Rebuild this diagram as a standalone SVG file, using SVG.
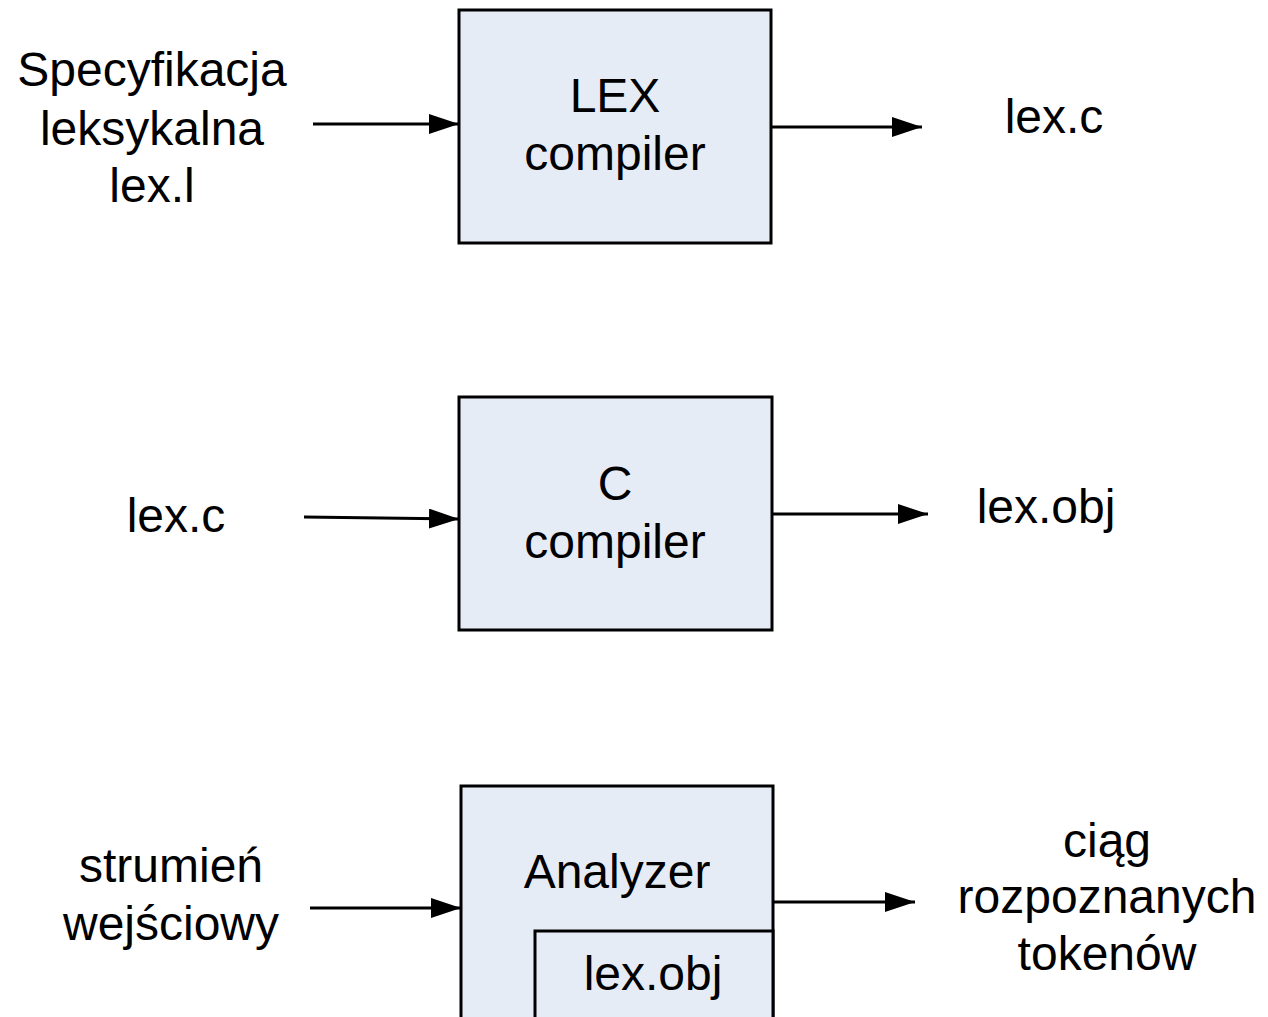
<svg xmlns="http://www.w3.org/2000/svg" width="1268" height="1017" viewBox="0 0 1268 1017">
<style>
.box{fill:#e6ecf6;stroke:#000;stroke-width:3}
.t{font-family:"Liberation Sans",Arial,sans-serif;font-size:48px;fill:#000;text-anchor:middle}
.c{stroke:#000;stroke-width:3;fill:none;marker-end:url(#ah)}
</style>
<defs>
<marker id="ah" markerUnits="userSpaceOnUse" markerWidth="32" markerHeight="22" refX="30" refY="10" orient="auto">
<path d="M0,0 L30,10 L0,20 Z" fill="#000"/>
</marker>
</defs>
<g id="n-lex">
<rect class="box" x="459" y="10" width="312" height="233"/>
<text class="t" x="615" y="112">LEX</text>
<text class="t" x="615" y="170">compiler</text>
</g>
<g id="n-c">
<rect class="box" x="459" y="397" width="313" height="233"/>
<text class="t" x="615" y="500">C</text>
<text class="t" x="615" y="558">compiler</text>
</g>
<g id="n-analyzer">
<rect class="box" x="461" y="786" width="312" height="240"/>
<text class="t" x="617" y="888">Analyzer</text>
</g>
<g id="n-lexobj-inner">
<rect class="box" x="535" y="931" width="238" height="95"/>
<text class="t" x="653" y="990">lex.obj</text>
</g>
<g id="l-spec">
<text class="t" x="152" y="86">Specyfikacja</text>
<text class="t" x="152" y="145">leksykalna</text>
<text class="t" x="152" y="202">lex.l</text>
</g>
<g id="l-lexc-out"><text class="t" x="1054" y="133">lex.c</text></g>
<g id="l-lexc-in"><text class="t" x="176" y="532">lex.c</text></g>
<g id="l-lexobj-out"><text class="t" x="1046" y="523">lex.obj</text></g>
<g id="l-strumien">
<text class="t" x="171" y="882">strumień</text>
<text class="t" x="171" y="940">wejściowy</text>
</g>
<g id="l-ciag">
<text class="t" x="1107" y="857">ciąg</text>
<text class="t" x="1107" y="913">rozpoznanych</text>
<text class="t" x="1107" y="970">tokenów</text>
</g>
<g id="connectors">
<line class="c" x1="313" y1="124" x2="459" y2="124"/>
<line class="c" x1="771" y1="127" x2="922" y2="127"/>
<line class="c" x1="304" y1="517" x2="459" y2="519"/>
<line class="c" x1="772" y1="514" x2="928" y2="514"/>
<line class="c" x1="310" y1="908" x2="461" y2="908"/>
<line class="c" x1="773" y1="902" x2="915" y2="902"/>
</g>
</svg>
